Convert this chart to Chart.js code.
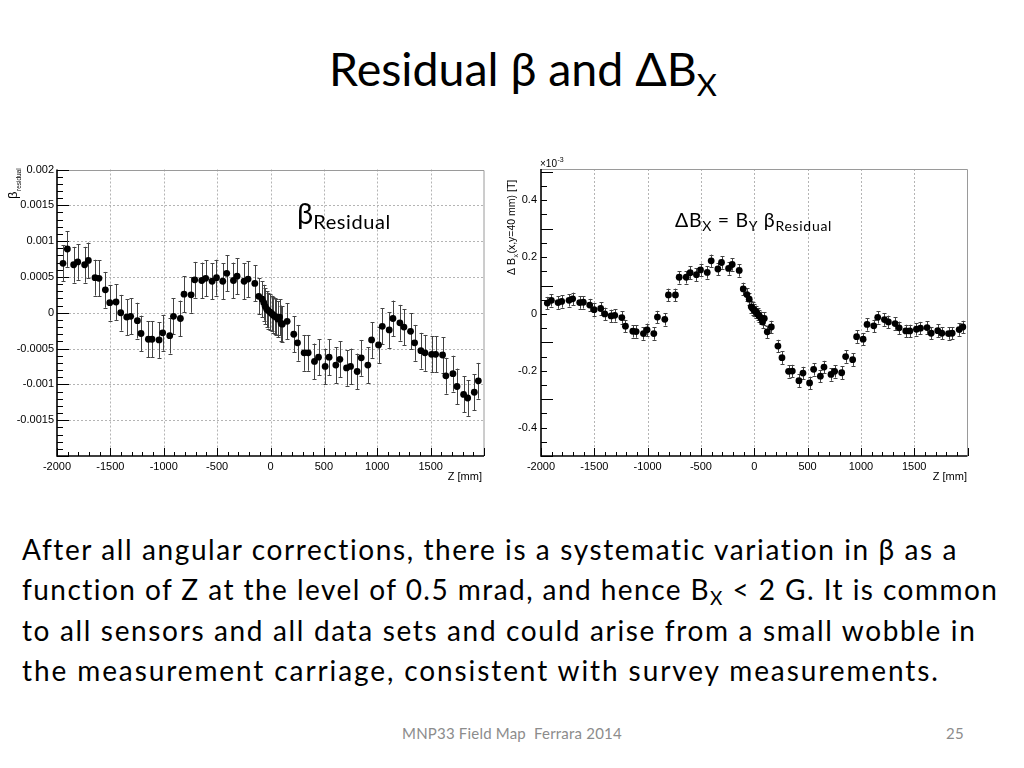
<!DOCTYPE html>
<html>
<head>
<meta charset="utf-8">
<script src="https://cdn.jsdelivr.net/npm/chart.js@4/dist/chart.umd.min.js"></script>
<style>
  html, body { margin:0; padding:0; background:#fff; }
  body { width:1024px; height:768px; position:relative; overflow:hidden; font-family: Lato, "Open Sans", sans-serif; color:#000; font-variant-ligatures:none; }
  .abs { position:absolute; white-space:nowrap; }
  #title { left:0; width:1024px; text-align:center; top:42px; font-size:46.5px; line-height:52px; padding-left:11px; }
  #title sub { font-size:31px; vertical-align:-10px; line-height:0; }
  .body { left:22px; font-size:28px; line-height:32px; letter-spacing:1.65px; }
  .foot { font-size:15px; color:#8c8c8c; top:724px; letter-spacing:0.2px; }
  .ann sub { line-height:0; }
  canvas { position:absolute; }
</style>
</head>
<body>
<div id="title" class="abs">Residual β and ΔB<sub>X</sub></div>

<canvas id="cLeft" width="495" height="340" style="left:0px;top:150px;width:495px;height:340px;"></canvas>
<canvas id="cRight" width="490" height="340" style="left:495px;top:150px;width:490px;height:340px;"></canvas>

<div class="abs ann" style="left:297px;top:196px;font-size:29px;line-height:34px;">β<sub style="font-size:20px;vertical-align:-5px;letter-spacing:0.6px;">Residual</sub></div>
<div class="abs ann" style="left:675px;top:209px;font-size:19.5px;line-height:22px;letter-spacing:0.7px;">ΔB<sub style="font-size:14px;vertical-align:-4px;">X</sub> = B<sub style="font-size:14px;vertical-align:-4px;">Y</sub> β<sub style="font-size:14px;vertical-align:-4px;">Residual</sub></div>

<div class="abs body" style="top:533px;letter-spacing:1.6px;">After all angular corrections, there is a systematic variation in β as a</div>
<div class="abs body" style="top:573px;letter-spacing:1.45px;">function of Z at the level of 0.5 mrad, and hence B<sub style="font-size:19px;vertical-align:-5px;line-height:0;">X</sub> &lt; 2 G. It is common</div>
<div class="abs body" style="top:614px;letter-spacing:1.65px;">to all sensors and all data sets and could arise from a small wobble in</div>
<div class="abs body" style="top:654px;letter-spacing:1.9px;">the measurement carriage, consistent with survey measurements.</div>

<div class="abs foot" style="left:402px;">MNP33 Field Map&nbsp; Ferrara 2014</div>
<div class="abs foot" style="left:946px;">25</div>

<script>
// ---------- Left chart: beta residual vs Z ----------
const zBeta = [-1944,-1903,-1844,-1806,-1741,-1706,-1644,-1607,-1547,-1506,-1447,-1403,-1347,-1310,-1247,-1213,-1144,-1110,-1044,-1010,-944,-909,-844,-810,-744,-710,-644,-607,-547,-506,-447,-410,-347,-313,-247,-210,-147,-110,
  -78,-63,-50,-35,-20,-5,10,25,40,55,70,85,100,110,156,
  218,253,315,353,412,450,512,549,612,650,712,750,812,850,912,947,1012,1047,1112,1147,1212,1250,1312,1350,1409,1447,1509,1547,1612,1643,1709,1747,1809,1847,1909,1947];
const betaResidual = [0.00069,0.00089,0.00067,0.00071,0.00067,0.00073,0.00049,0.00048,0.00032,0.00014,0.00015,0.00000,-0.00006,-0.00005,-0.00011,-0.00029,-0.00037,-0.00037,-0.00038,-0.00028,-0.00032,-0.00005,-0.00008,0.00026,0.00025,0.00046,0.00045,0.00048,0.00044,0.00049,0.00044,0.00055,0.00045,0.00051,0.00044,0.00047,0.00041,0.00023,
  0.00019,0.00014,0.00009,0.00005,0.00003,0.00001,-0.00001,-0.00003,-0.00005,-0.00006,-0.00009,-0.00006,-0.00015,-0.00016,-0.00012,
  -0.00030,-0.00042,-0.00056,-0.00056,-0.00068,-0.00062,-0.00075,-0.00062,-0.00073,-0.00065,-0.00077,-0.00075,-0.00082,-0.00063,-0.00073,-0.00038,-0.00045,-0.00019,-0.00024,-0.00008,-0.00014,-0.00020,-0.00026,-0.00042,-0.00053,-0.00056,-0.00058,-0.00058,-0.00059,-0.00088,-0.00085,-0.00103,-0.00114,-0.00119,-0.00111,-0.00095];
const betaError = [0.00025,0.00025,0.00025,0.00025,0.00025,0.00025,0.00025,0.00025,0.00025,0.00025,0.00025,0.00025,0.00025,0.00025,0.00025,0.00025,0.00025,0.00025,0.00025,0.00025,0.00025,0.00025,0.00025,0.00025,0.00025,0.00025,0.00025,0.00025,0.00025,0.00025,0.00025,0.00025,0.00025,0.00025,0.00025,0.00025,0.00025,0.00025,
  0.00025,0.00025,0.00025,0.00025,0.00025,0.00025,0.00025,0.00025,0.00025,0.00025,0.00025,0.00025,0.00025,0.00025,0.00025,
  0.00025,0.00025,0.00025,0.00025,0.00025,0.00025,0.00025,0.00025,0.00025,0.00025,0.00025,0.00025,0.00025,0.00025,0.00025,0.00025,0.00025,0.00025,0.00025,0.00025,0.00025,0.00025,0.00025,0.00025,0.00025,0.00025,0.00025,0.00025,0.00025,0.00025,0.00025,0.00025,0.00025,0.00025,0.00025,0.00025];

// ---------- Right chart: Delta Bx (units of 1e-3 T) vs Z ----------
const zBx = [-1941,-1903,-1840,-1806,-1737,-1703,-1637,-1603,-1543,-1502,-1440,-1402,-1343,-1308,-1242,-1208,-1139,-1108,-1039,-1005,-942,-908,-839,-805,-739,-704,-638,-601,-542,-504,-441,-404,-341,-307,-241,-207,-141,-103,
  -69,-47,-28,-16,0,16,31,47,63,78,94,122,160,
  222,260,322,357,419,457,519,557,620,654,720,754,820,857,923,960,1021,1058,1121,1158,1221,1258,1321,1359,1421,1459,1521,1559,1621,1659,1721,1759,1822,1856,1922,1956];
const deltaBx = [0.038,0.048,0.040,0.044,0.048,0.053,0.040,0.041,0.031,0.015,0.019,0.000,-0.007,-0.005,-0.013,-0.043,-0.061,-0.062,-0.069,-0.056,-0.069,-0.011,-0.019,0.067,0.067,0.129,0.129,0.145,0.138,0.155,0.146,0.187,0.158,0.181,0.160,0.174,0.153,0.088,
  0.068,0.052,0.025,0.019,0.013,0.007,-0.001,-0.007,-0.014,-0.028,-0.016,-0.063,-0.046,
  -0.113,-0.154,-0.202,-0.201,-0.235,-0.208,-0.243,-0.195,-0.219,-0.187,-0.213,-0.202,-0.207,-0.150,-0.161,-0.080,-0.089,-0.037,-0.042,-0.012,-0.020,-0.028,-0.034,-0.049,-0.060,-0.060,-0.054,-0.050,-0.048,-0.068,-0.059,-0.068,-0.069,-0.068,-0.055,-0.046];
const deltaBxError = [0.022,0.022,0.022,0.022,0.022,0.022,0.022,0.022,0.022,0.022,0.022,0.022,0.022,0.022,0.022,0.022,0.022,0.022,0.022,0.022,0.022,0.022,0.022,0.022,0.022,0.022,0.022,0.022,0.022,0.022,0.022,0.022,0.022,0.022,0.022,0.022,0.022,0.022,
  0.022,0.022,0.022,0.022,0.022,0.022,0.022,0.022,0.022,0.022,0.022,0.022,0.022,
  0.022,0.022,0.022,0.022,0.022,0.022,0.022,0.022,0.022,0.022,0.022,0.022,0.022,0.022,0.022,0.022,0.022,0.022,0.022,0.022,0.022,0.022,0.022,0.022,0.022,0.022,0.022,0.022,0.022,0.022,0.022,0.022,0.022,0.022,0.022,0.022];

const xTickValues = [-2000,-1500,-1000,-500,0,500,1000,1500];
const xTickLabels = ['-2000','-1500','-1000','-500','0','500','1000','1500'];
const leftYTickLabels = ['0.002','0.0015','0.001','0.0005','0','-0.0005','-0.001','-0.0015'];
const rightYTickLabels = ['0.4','0.2','0','-0.2','-0.4'];

const AXFONT = "'Liberation Sans', Arial, sans-serif";

function framePlugin(cfg) {
  return {
    id: 'rootFrame',
    beforeDatasetsDraw(chart) {
      const {ctx, chartArea: a, scales} = chart;
      const xs = scales.x, ys = scales.y;
      ctx.save();
      // dotted grid at major ticks
      ctx.strokeStyle = '#b4b4b4';
      ctx.lineWidth = 1;
      ctx.setLineDash([2, 2]);
      for (let v = cfg.xMin + cfg.xMajor; v < cfg.xMax - 1e-9; v += cfg.xMajor) {
        const px = Math.round(xs.getPixelForValue(v)) + 0.5;
        ctx.beginPath(); ctx.moveTo(px, a.top); ctx.lineTo(px, a.bottom); ctx.stroke();
      }
      for (let k = 1; k < cfg.yMajorCount; k++) {
        const v = cfg.yMin + k * cfg.yMajor;
        const py = Math.round(ys.getPixelForValue(v)) + 0.5;
        ctx.beginPath(); ctx.moveTo(a.left, py); ctx.lineTo(a.right, py); ctx.stroke();
      }
      ctx.setLineDash([]);
      // frame: top/right grey
      ctx.strokeStyle = '#9a9a9a';
      ctx.lineWidth = 1;
      ctx.beginPath();
      ctx.moveTo(a.left, Math.round(a.top) + 0.5); ctx.lineTo(a.right, Math.round(a.top) + 0.5);
      ctx.lineTo(a.right, a.bottom);
      ctx.stroke();
      // left / bottom axes black
      ctx.strokeStyle = '#000';
      ctx.lineWidth = 1.6;
      ctx.beginPath();
      ctx.moveTo(a.left, a.top); ctx.lineTo(a.left, a.bottom); ctx.lineTo(a.right, a.bottom);
      ctx.stroke();
      ctx.lineWidth = 1;
      // y ticks
      const nYMinor = Math.round((cfg.yMax - cfg.yMin) / cfg.yMinor);
      for (let k = 0; k <= nYMinor; k++) {
        const v = cfg.yMin + k * cfg.yMinor;
        if (v > cfg.yMax + 1e-12) break;
        const major = Math.abs(Math.round((v - cfg.yMin) / cfg.yMajor) * cfg.yMajor - (v - cfg.yMin)) < cfg.yMinor * 0.01;
        const py = Math.round(ys.getPixelForValue(v)) + 0.5;
        ctx.beginPath(); ctx.moveTo(a.left, py); ctx.lineTo(a.left + (major ? 12 : 6), py); ctx.stroke();
      }
      // x ticks
      const nXMinor = Math.round((cfg.xMax - cfg.xMin) / cfg.xMinor);
      for (let k = 0; k <= nXMinor; k++) {
        const v = cfg.xMin + k * cfg.xMinor;
        const major = (k % Math.round(cfg.xMajor / cfg.xMinor)) === 0;
        const px = Math.round(xs.getPixelForValue(v)) + 0.5;
        ctx.beginPath(); ctx.moveTo(px, a.bottom); ctx.lineTo(px, a.bottom - (major ? 8 : 4)); ctx.stroke();
      }
      // error bars
      const ds = cfg.errData;
      ctx.strokeStyle = '#444';
      ctx.lineWidth = 1;
      for (let i = 0; i < ds.x.length; i++) {
        const px = Math.round(xs.getPixelForValue(ds.x[i])) + 0.5;
        const y1 = ys.getPixelForValue(ds.y[i] + ds.e[i]);
        const y2 = ys.getPixelForValue(ds.y[i] - ds.e[i]);
        ctx.beginPath();
        ctx.moveTo(px, y1); ctx.lineTo(px, y2);
        ctx.moveTo(px - 2, Math.round(y1) + 0.5); ctx.lineTo(px + 2, Math.round(y1) + 0.5);
        ctx.moveTo(px - 2, Math.round(y2) + 0.5); ctx.lineTo(px + 2, Math.round(y2) + 0.5);
        ctx.stroke();
      }
      ctx.restore();
    },
    afterDraw(chart) {
      const {ctx} = chart;
      ctx.save();
      ctx.fillStyle = '#000';
      cfg.drawTitles(ctx, chart);
      ctx.restore();
    }
  };
}

function makeChart(id, xData, yData, eData, opt) {
  const pts = xData.map((x, i) => ({x: x, y: yData[i]}));
  return new Chart(document.getElementById(id), {
    type: 'scatter',
    data: { datasets: [{ data: pts, pointRadius: 3.4, pointHoverRadius: 3.4, backgroundColor: '#000', borderWidth: 0, showLine: false }] },
    options: {
      responsive: false,
      animation: false,
      events: [],
      layout: { padding: opt.padding },
      plugins: { legend: { display: false }, tooltip: { enabled: false } },
      scales: {
        x: {
          type: 'linear', min: opt.xMin, max: opt.xMax,
          afterBuildTicks: (s) => { s.ticks = xTickValues.map(v => ({value: v})); },
          afterFit: (s) => { s.height = opt.xAxisHeight; },
          ticks: { font: {family: AXFONT, size: 11}, color: '#000', padding: 4, maxRotation: 0, autoSkip: false,
                   callback: (v, i) => xTickLabels[i] },
          grid: { display: false, drawTicks: false },
          border: { display: false }
        },
        y: {
          type: 'linear', min: opt.yMin, max: opt.yMax,
          afterBuildTicks: (s) => { s.ticks = opt.yTickValues.map(v => ({value: v})); },
          afterFit: (s) => { s.width = opt.yAxisWidth; },
          ticks: { font: {family: AXFONT, size: 11}, color: '#000', padding: opt.yPad, autoSkip: false,
                   callback: (v, i) => opt.yLabels[i] },
          grid: { display: false, drawTicks: false },
          border: { display: false }
        }
      }
    },
    plugins: [framePlugin({
      xMin: -2000, xMax: 2000, xMajor: 500, xMinor: 100,
      yMin: opt.yMin, yMax: opt.gridYMax, yMajor: opt.yMajor, yMinor: opt.yMinor, yMajorCount: opt.yMajorCount,
      errData: {x: xData, y: yData, e: eData},
      drawTitles: opt.drawTitles
    })]
  });
}

makeChart('cLeft', zBeta, betaResidual, betaError, {
  padding: {left: 0, right: 11, top: 19.5, bottom: 0},
  xMin: -2000, xMax: 2000, yMin: -0.002, yMax: 0.002, gridYMax: 0.002,
  yMajor: 0.0005, yMinor: 0.0001, yMajorCount: 8,
  yTickValues: [0.002, 0.0015, 0.001, 0.0005, 0, -0.0005, -0.001, -0.0015],
  yLabels: leftYTickLabels,
  xAxisHeight: 34, yAxisWidth: 57, yPad: 3,
  drawTitles: (ctx, chart) => {
    ctx.font = "11px " + AXFONT;
    ctx.textAlign = 'right'; ctx.textBaseline = 'middle';
    ctx.fillText('Z [mm]', 482, 327);
    // rotated y title: beta_residual
    ctx.save();
    ctx.translate(17, 49);
    ctx.rotate(-Math.PI / 2);
    ctx.textAlign = 'left'; ctx.textBaseline = 'alphabetic';
    ctx.font = "13px " + AXFONT;
    ctx.fillText('β', 0, 0);
    const w = ctx.measureText('β').width;
    ctx.font = "6.5px " + AXFONT;
    ctx.fillText('residual', w + 0.5, 4);
    ctx.restore();
  }
});

makeChart('cRight', zBx, deltaBx, deltaBxError, {
  padding: {left: 0, right: 17.5, top: 19, bottom: 0},
  xMin: -2000, xMax: 2000, yMin: -0.5, yMax: 0.51, gridYMax: 0.5,
  yMajor: 0.2, yMinor: 0.05, yMajorCount: 1,
  yTickValues: [0.4, 0.2, 0, -0.2, -0.4],
  yLabels: rightYTickLabels,
  xAxisHeight: 34, yAxisWidth: 46, yPad: 4,
  drawTitles: (ctx, chart) => {
    ctx.font = "11px " + AXFONT;
    ctx.textAlign = 'right'; ctx.textBaseline = 'middle';
    ctx.fillText('Z [mm]', 472, 327);
    // x10^-3
    ctx.textAlign = 'left'; ctx.textBaseline = 'alphabetic';
    ctx.font = "10px " + AXFONT;
    ctx.fillText('×10', 45, 17);
    const w0 = ctx.measureText('×10').width;
    ctx.font = "7px " + AXFONT;
    ctx.fillText('-3', 45 + w0 + 0.5, 12);
    // rotated y title
    ctx.save();
    ctx.translate(20, 125);
    ctx.rotate(-Math.PI / 2);
    ctx.textAlign = 'left'; ctx.textBaseline = 'alphabetic';
    ctx.font = "10.5px " + AXFONT;
    ctx.fillText('Δ B', 0, 0);
    let w = ctx.measureText('Δ B').width;
    ctx.font = "7px " + AXFONT;
    ctx.fillText('x', w + 0.5, 2.5);
    w += ctx.measureText('x').width + 1;
    ctx.font = "10.5px " + AXFONT;
    ctx.fillText('(x,y=40 mm) [T]', w, 0);
    ctx.restore();
  }
});
</script>
</body>
</html>
